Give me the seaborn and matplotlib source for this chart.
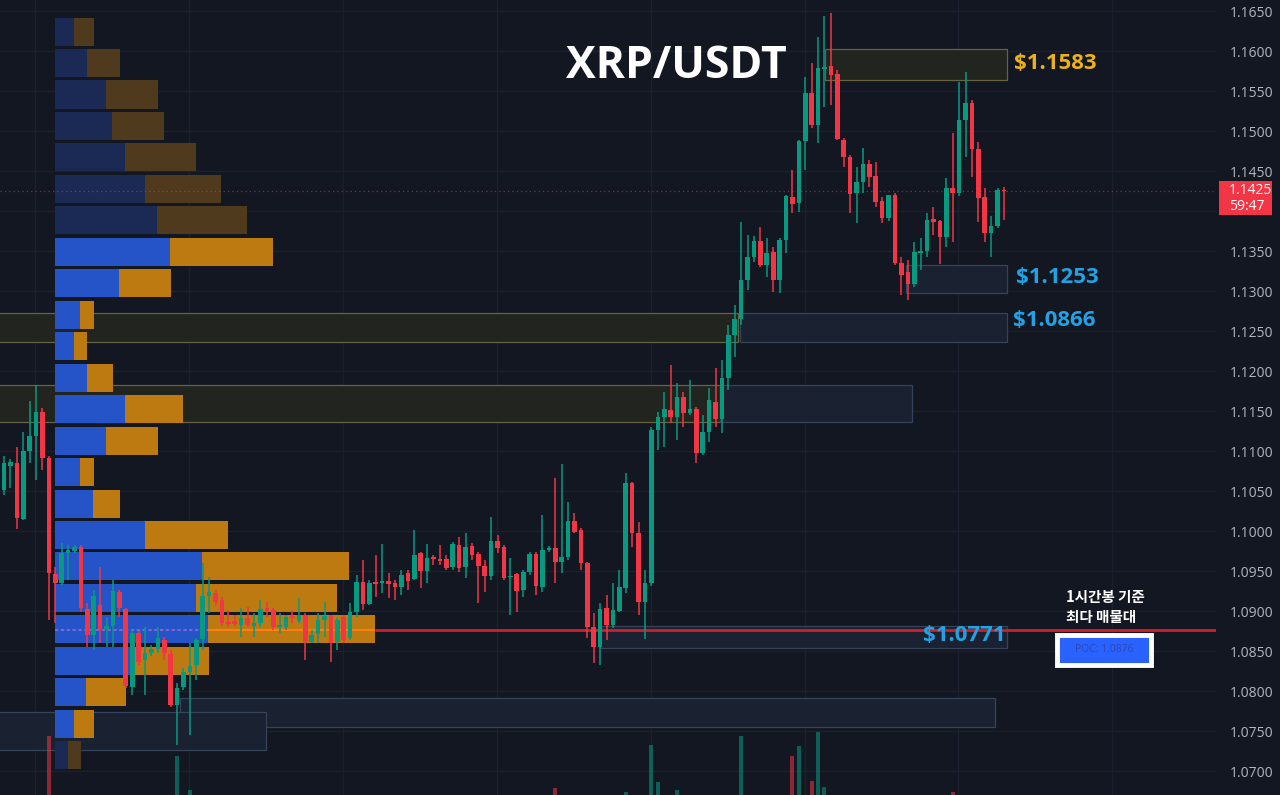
#!/usr/bin/env python3
"""XRP/USDT 1h candles with a volume profile, supply/demand zones and POC."""
from __future__ import annotations

import matplotlib

matplotlib.use("Agg")
import matplotlib.pyplot as plt
import numpy as np
import pandas as pd
import seaborn as sns
from matplotlib.patches import Rectangle


opens = [
    1.1051, 1.1081, 1.1085, 1.1015, 1.1100, 1.1119, 1.1149, 1.1091, 1.0946, 1.0935,
    1.0973, 1.0975, 1.0980, 1.0903, 1.0870, 1.0908, 1.0878, 1.0881, 1.0924, 1.0903,
    1.0805, 1.0873, 1.0839, 1.0848, 1.0853, 1.0864, 1.0846, 1.0783, 1.0805, 1.0824,
    1.0833, 1.0865, 1.0919, 1.0923, 1.0914, 1.0886, 1.0888, 1.0883, 1.0891, 1.0881,
    1.0885, 1.0904, 1.0901, 1.0880, 1.0880, 1.0894, 1.0888, 1.0895, 1.0861, 1.0871,
    1.0889, 1.0894, 1.0861, 1.0893, 1.0866, 1.0899, 1.0936, 1.0909, 1.0936, 1.0935,
    1.0938, 1.0935, 1.0930, 1.0948, 1.0940, 1.0973, 1.0950, 1.0968, 1.0965, 1.0965,
    1.0955, 1.0983, 1.0955, 1.0981, 1.0971, 1.0956, 1.0944, 1.0988, 1.0980, 1.0943,
    1.0946, 1.0926, 1.0949, 1.0971, 1.0930, 1.0976, 1.0979, 1.0961, 1.0968, 1.1013,
    1.1001, 1.0960, 1.0880, 1.0855, 1.0904, 1.0883, 1.0900, 1.0929, 1.1060, 1.0998,
    1.0911, 1.0935, 1.1126, 1.1143, 1.1151, 1.1143, 1.1168, 1.1148, 1.1153, 1.1098,
    1.1124, 1.1161, 1.1140, 1.1191, 1.1245, 1.1265, 1.1314, 1.1343, 1.1363, 1.1333,
    1.1349, 1.1314, 1.1364, 1.1418, 1.1410, 1.1488, 1.1548, 1.1508, 1.1578, 1.1581,
    1.1571, 1.1489, 1.1468, 1.1423, 1.1436, 1.1459, 1.1444, 1.1413, 1.1391, 1.1420,
    1.1335, 1.1324, 1.1309, 1.1348, 1.1350, 1.1390, 1.1388, 1.1368, 1.1429, 1.1423,
    1.1514, 1.1535, 1.1478, 1.1418, 1.1373, 1.1381, 1.1426,
]
highs = [
    1.1094, 1.1090, 1.1105, 1.1124, 1.1163, 1.1183, 1.1154, 1.1094, 1.0955, 1.0985,
    1.0983, 1.0983, 1.0983, 1.0910, 1.0926, 1.0955, 1.0893, 1.0939, 1.0926, 1.0904,
    1.0876, 1.0875, 1.0880, 1.0858, 1.0880, 1.0868, 1.0851, 1.0810, 1.0829, 1.0860,
    1.0866, 1.0960, 1.0943, 1.0926, 1.0918, 1.0901, 1.0895, 1.0904, 1.0905, 1.0898,
    1.0914, 1.0911, 1.0904, 1.0898, 1.0895, 1.0901, 1.0916, 1.0898, 1.0876, 1.0898,
    1.0911, 1.0895, 1.0891, 1.0895, 1.0910, 1.0945, 1.0964, 1.0939, 1.0970, 1.0984,
    1.0948, 1.0939, 1.0951, 1.0951, 1.1001, 1.0974, 1.0984, 1.0970, 1.0983, 1.0970,
    1.0986, 1.0993, 1.0998, 1.0985, 1.0974, 1.0964, 1.1018, 1.0995, 1.0983, 1.0966,
    1.0948, 1.0951, 1.0974, 1.0974, 1.1020, 1.0981, 1.1066, 1.1084, 1.1036, 1.1023,
    1.1004, 1.0961, 1.0898, 1.0910, 1.0920, 1.0935, 1.0951, 1.1073, 1.1061, 1.1011,
    1.0951, 1.1130, 1.1149, 1.1174, 1.1208, 1.1185, 1.1174, 1.1189, 1.1155, 1.1145,
    1.1179, 1.1204, 1.1214, 1.1258, 1.1283, 1.1386, 1.1370, 1.1369, 1.1380, 1.1366,
    1.1355, 1.1366, 1.1420, 1.1451, 1.1489, 1.1568, 1.1585, 1.1618, 1.1644, 1.1648,
    1.1576, 1.1491, 1.1470, 1.1455, 1.1479, 1.1464, 1.1461, 1.1418, 1.1420, 1.1423,
    1.1343, 1.1339, 1.1361, 1.1366, 1.1398, 1.1405, 1.1389, 1.1441, 1.1498, 1.1561,
    1.1574, 1.1539, 1.1486, 1.1429, 1.1394, 1.1429, 1.1430,
]
lows = [
    1.1045, 1.1054, 1.1003, 1.1014, 1.1085, 1.1064, 1.1076, 1.0889, 1.0885, 1.0933,
    1.0939, 1.0973, 1.0899, 1.0855, 1.0851, 1.0860, 1.0855, 1.0855, 1.0893, 1.0804,
    1.0795, 1.0833, 1.0795, 1.0844, 1.0848, 1.0839, 1.0780, 1.0733, 1.0801, 1.0745,
    1.0814, 1.0851, 1.0898, 1.0908, 1.0881, 1.0880, 1.0881, 1.0868, 1.0880, 1.0868,
    1.0880, 1.0893, 1.0876, 1.0873, 1.0876, 1.0885, 1.0885, 1.0839, 1.0860, 1.0860,
    1.0868, 1.0836, 1.0851, 1.0860, 1.0864, 1.0893, 1.0901, 1.0908, 1.0918, 1.0923,
    1.0916, 1.0914, 1.0920, 1.0926, 1.0939, 1.0929, 1.0935, 1.0958, 1.0958, 1.0951,
    1.0951, 1.0949, 1.0941, 1.0964, 1.0910, 1.0924, 1.0939, 1.0973, 1.0939, 1.0895,
    1.0899, 1.0918, 1.0945, 1.0920, 1.0924, 1.0974, 1.0935, 1.0948, 1.0964, 1.0998,
    1.0951, 1.0866, 1.0835, 1.0833, 1.0864, 1.0879, 1.0899, 1.0923, 1.0980, 1.0895,
    1.0865, 1.0931, 1.1101, 1.1105, 1.1135, 1.1114, 1.1130, 1.1145, 1.1085, 1.1095,
    1.1111, 1.1130, 1.1123, 1.1176, 1.1218, 1.1258, 1.1301, 1.1336, 1.1330, 1.1318,
    1.1299, 1.1298, 1.1348, 1.1398, 1.1399, 1.1451, 1.1504, 1.1485, 1.1530, 1.1533,
    1.1489, 1.1455, 1.1398, 1.1385, 1.1423, 1.1430, 1.1405, 1.1385, 1.1388, 1.1333,
    1.1295, 1.1289, 1.1305, 1.1326, 1.1343, 1.1370, 1.1334, 1.1355, 1.1361, 1.1419,
    1.1468, 1.1443, 1.1386, 1.1361, 1.1343, 1.1379, 1.1389,
]
closes = [
    1.1085, 1.1086, 1.1016, 1.1100, 1.1119, 1.1149, 1.1091, 1.0948, 1.0935, 1.0973,
    1.0976, 1.0980, 1.0904, 1.0870, 1.0919, 1.0878, 1.0881, 1.0925, 1.0904, 1.0806,
    1.0873, 1.0836, 1.0848, 1.0853, 1.0866, 1.0848, 1.0783, 1.0804, 1.0824, 1.0831,
    1.0864, 1.0919, 1.0924, 1.0911, 1.0885, 1.0884, 1.0884, 1.0891, 1.0883, 1.0885,
    1.0903, 1.0900, 1.0880, 1.0883, 1.0893, 1.0891, 1.0895, 1.0861, 1.0870, 1.0889,
    1.0894, 1.0860, 1.0889, 1.0864, 1.0899, 1.0936, 1.0909, 1.0935, 1.0934, 1.0938,
    1.0934, 1.0930, 1.0945, 1.0938, 1.0970, 1.0950, 1.0966, 1.0965, 1.0963, 1.0954,
    1.0984, 1.0954, 1.0980, 1.0970, 1.0956, 1.0944, 1.0988, 1.0979, 1.0941, 1.0944,
    1.0925, 1.0949, 1.0971, 1.0931, 1.0976, 1.0979, 1.0961, 1.0968, 1.1013, 1.0999,
    1.0960, 1.0880, 1.0855, 1.0903, 1.0883, 1.0901, 1.0930, 1.1060, 1.0998, 1.0911,
    1.0935, 1.1126, 1.1143, 1.1153, 1.1143, 1.1168, 1.1148, 1.1153, 1.1098, 1.1124,
    1.1164, 1.1140, 1.1191, 1.1245, 1.1265, 1.1314, 1.1343, 1.1363, 1.1333, 1.1348,
    1.1314, 1.1364, 1.1419, 1.1409, 1.1488, 1.1548, 1.1508, 1.1579, 1.1580, 1.1570,
    1.1490, 1.1468, 1.1421, 1.1436, 1.1459, 1.1443, 1.1411, 1.1391, 1.1420, 1.1335,
    1.1320, 1.1309, 1.1349, 1.1350, 1.1389, 1.1386, 1.1368, 1.1429, 1.1423, 1.1514,
    1.1535, 1.1478, 1.1416, 1.1373, 1.1381, 1.1426, 1.1425,
]
# volume in millions of XRP (only the tall ones show above the bottom edge)
volumes = [
    20, 14, 22, 25, 21, 26, 18, 59.5, 28, 20,
    12, 10, 18, 24, 22, 19, 11, 20, 14, 28,
    25, 15, 17, 9, 12, 11, 27, 49.5, 22, 32.5,
    21, 26, 14, 11, 13, 8, 7, 10, 9, 8,
    11, 7, 9, 8, 9, 7, 10, 16, 9, 11,
    8, 14, 12, 10, 11, 18, 20, 12, 14, 13,
    9, 8, 11, 9, 17, 14, 12, 7, 8, 9,
    13, 12, 14, 8, 15, 11, 19, 9, 13, 14,
    16, 12, 11, 15, 21, 8, 33.5, 24, 22, 13,
    16, 28, 26, 27, 18, 17, 22, 31.5, 28, 25,
    24, 55, 36.5, 20, 21, 32.5, 16, 14, 22, 18,
    17, 19, 23, 26, 21, 59.5, 24, 14, 19, 15,
    18, 17, 28, 49.5, 54.5, 29, 37, 61.5, 34, 27,
    26, 18, 24, 17, 15, 13, 16, 14, 12, 25,
    15, 14, 17, 10, 19, 12, 14, 22, 31.5, 28,
    20, 22, 21, 16, 13, 15, 3,
]

# volume profile, 24 rows from the bottom of the range upward
profile_low = 1.0700
profile_high = 1.1644
profile_buy = [6.5, 9.5, 15.5, 40, 76.5, 70.5, 73.5, 45, 19, 12.5, 25.5, 35,
               16, 9.5, 12.5, 32, 57.5, 51, 45, 35, 28.5, 25.5, 16, 9.5]
profile_sell = [6.5, 10, 20, 37, 83.5, 70.5, 73.5, 41.5, 13.5, 7, 26, 29,
                13, 6.5, 7, 26, 51.5, 45, 38, 35.5, 26, 26, 16.5, 10]
value_area_rows = (1, 16)
poc_price = 1.0876
last_price = 1.1425

# zones: candle index span and price span
zone_start = [128.1, 140.7, -5, 114.8, -5, 111.7, 93.0, 27.5, -5]
zone_end = [156.5, 156.5, 114.5, 156.5, 111.7, 141.7, 156.5, 154.6, 40.9]
zone_low = [1.1564, 1.1298, 1.1236, 1.1236, 1.1136, 1.1136, 1.0854, 1.0755, 1.0726]
zone_high = [1.1602, 1.1333, 1.1273, 1.1273, 1.1183, 1.1183, 1.0881, 1.0791, 1.0774]
zone_kind = ["supply", "demand", "supply", "demand", "supply", "demand",
             "demand", "demand", "demand"]

level_labels = ["$1.1583", "$1.1253", "$1.0866", "$1.0771"]
level_colors = ["#eab11b", "#22a2e4", "#22a2e4", "#22a2e4"]

price_ticks = np.round(np.arange(1.0700, 1.16501, 0.005), 4)

BG = "#131722"
GRID = "#1c2030"
UP = "#089981"
DOWN = "#f23645"
VP_BUY, VP_SELL = "#2553c8", "#bd7a10"
VP_BUY_DIM, VP_SELL_DIM = "#1a2a55", "#4f3a1e"

PX_PER_BAR = 6.41
VP_LEFT = 7.95
VP_SCALE = 2 / PX_PER_BAR
AX_RECT = [0, 0, 1216 / 1280, 1]


def draw_zones(ax) -> None:
    for x0, x1, lo, hi, kind in zip(zone_start, zone_end, zone_low, zone_high, zone_kind):
        if kind == "supply":
            fc, ec = "#22241f", "#67623f"
        else:
            fc, ec = "#1a2130", "#35445a"
        ax.add_patch(Rectangle((x0, lo), x1 - x0, hi - lo, facecolor=fc,
                               edgecolor=ec, linewidth=0.9, zorder=1))


def draw_profile(ax) -> None:
    rows = len(profile_buy)
    row_h = (profile_high - profile_low) / rows
    centers = profile_low + (np.arange(rows) + 0.5) * row_h
    buy = np.array(profile_buy) * VP_SCALE
    sell = np.array(profile_sell) * VP_SCALE
    lo, hi = value_area_rows
    in_va = [(lo <= k <= hi) for k in range(rows)]
    buy_c = [VP_BUY if v else VP_BUY_DIM for v in in_va]
    sell_c = [VP_SELL if v else VP_SELL_DIM for v in in_va]
    ax.barh(centers, buy, left=VP_LEFT, height=row_h * 0.89, color=buy_c,
            linewidth=0, zorder=2)
    ax.barh(centers, sell, left=VP_LEFT + buy, height=row_h * 0.89, color=sell_c,
            linewidth=0, zorder=2)

    poc_row = int((poc_price - profile_low) // row_h)
    buy_end = VP_LEFT + buy[poc_row]
    sell_end = buy_end + sell[poc_row]
    ax.hlines(poc_price, VP_LEFT, buy_end, color="#8f6ad6", lw=1.2, ls=(0, (2, 1.5)), zorder=2.5)
    ax.hlines(poc_price, buy_end, sell_end, color="#ff7f0e", lw=1.5, zorder=2.5)
    ax.hlines(poc_price, sell_end, ax.get_xlim()[1], color="#cf1f2c", lw=2.0, zorder=2.5)


def draw_candles(ax, df: pd.DataFrame) -> None:
    colors = np.where(df["close"] >= df["open"], UP, DOWN)
    ax.vlines(df.index, df["low"], df["high"], colors=colors, lw=1.1, zorder=4)
    body = np.maximum((df["close"] - df["open"]).abs(), 0.00013)
    ax.bar(df.index, body, bottom=np.minimum(df["open"], df["close"]), width=0.72,
           color=colors, linewidth=0, zorder=5)


def main() -> int:
    sns.set_theme(style="dark", rc={"axes.facecolor": BG, "figure.facecolor": BG})
    plt.rcParams["font.family"] = ["Open Sans", "Noto Sans CJK KR", "DejaVu Sans"]

    df = pd.DataFrame({"open": opens, "high": highs, "low": lows, "close": closes,
                       "volume": volumes})

    fig = plt.figure(figsize=(12.8, 7.95), dpi=100, facecolor=BG)
    ax = fig.add_axes(AX_RECT)
    ax.set_facecolor(BG)
    ax.set_xlim(-4 / PX_PER_BAR, 1212 / PX_PER_BAR)
    ax.set_ylim(1.06700, 1.16638)

    # grid + price scale on the right
    ax.set_xticks(4.9 + 24 * np.arange(8))
    ax.set_yticks(price_ticks)
    ax.set_yticklabels(["" if abs(t - 1.14) < 1e-6 else f"{t:.4f}" for t in price_ticks])
    ax.yaxis.tick_right()
    ax.tick_params(axis="x", length=0, labelbottom=False)
    ax.tick_params(axis="y", length=0, pad=10, labelcolor="#b2b5be", labelsize=10)
    ax.grid(True, color=GRID, lw=0.9, zorder=0)
    ax.set_axisbelow(True)
    for sp in ax.spines.values():
        sp.set_visible(False)

    draw_zones(ax)
    draw_profile(ax)
    ax.axhline(last_price, color=DOWN, lw=0.9, ls=(0, (1, 2.5)), alpha=0.6, zorder=2.8)
    draw_candles(ax, df)

    # volume overlay on its own scale, base sits below the visible bottom
    axv = fig.add_axes(AX_RECT, sharex=ax)
    axv.patch.set_visible(False)
    axv.set_ylim(30, 427.5)
    vcol = np.where(df["close"] >= df["open"], UP, DOWN)
    axv.bar(df.index, df["volume"], width=0.62, color=vcol, alpha=0.55, linewidth=0)
    axv.axis("off")

    # level labels next to the zones
    label_x = [157.6, 157.9, 157.4, 156.3]
    label_y = [1.1585, 1.1317, 1.1263, 1.0869]
    label_ha = ["left", "left", "left", "right"]
    for txt, col, lx, ly, ha in zip(level_labels, level_colors, label_x, label_y, label_ha):
        ax.text(lx, ly, txt, color=col, fontsize=16, fontweight="bold", ha=ha,
                va="center", family="Open Sans", zorder=6)

    fig.text(676 / 1280, 1 - 67 / 795, "XRP/USDT", color="white", fontsize=32,
             fontweight="bold", ha="center", va="center", family="Open Sans")

    ax.text(165.7, 1.0905, "1시간봉 기준\n최다 매물대", color="white", fontsize=10.5,
            fontweight="bold", ha="left", va="center", linespacing=1.3,
            family=["Noto Sans CJK KR", "DejaVu Sans"], zorder=6)

    fig.add_artist(Rectangle((1057 / 1280, 1 - 665 / 795), 94 / 1280, 30 / 795,
                             transform=fig.transFigure, facecolor="#2962ff",
                             edgecolor="white", linewidth=3.5))
    fig.text(1104 / 1280, 1 - 650 / 795, f"POC: {poc_price:.4f}", color="#2c48b8",
             fontsize=7.5, ha="center", va="center", family="Open Sans")

    # last price tag on the price scale
    fig.add_artist(Rectangle((1219 / 1280, 1 - 215 / 795), 53 / 1280, 34 / 795,
                             transform=fig.transFigure, facecolor=DOWN,
                             edgecolor="none"))
    fig.text(1229 / 1280, 1 - 191 / 795, f"{last_price:.4f}", color="white",
             fontsize=10, ha="left", va="center")
    fig.text(1229 / 1280, 1 - 206 / 795, "59:47", color="white", fontsize=10,
             ha="left", va="center")

    fig.savefig("out.png", dpi=100, facecolor=BG)
    plt.close(fig)
    return 0


if __name__ == "__main__":
    raise SystemExit(main())
